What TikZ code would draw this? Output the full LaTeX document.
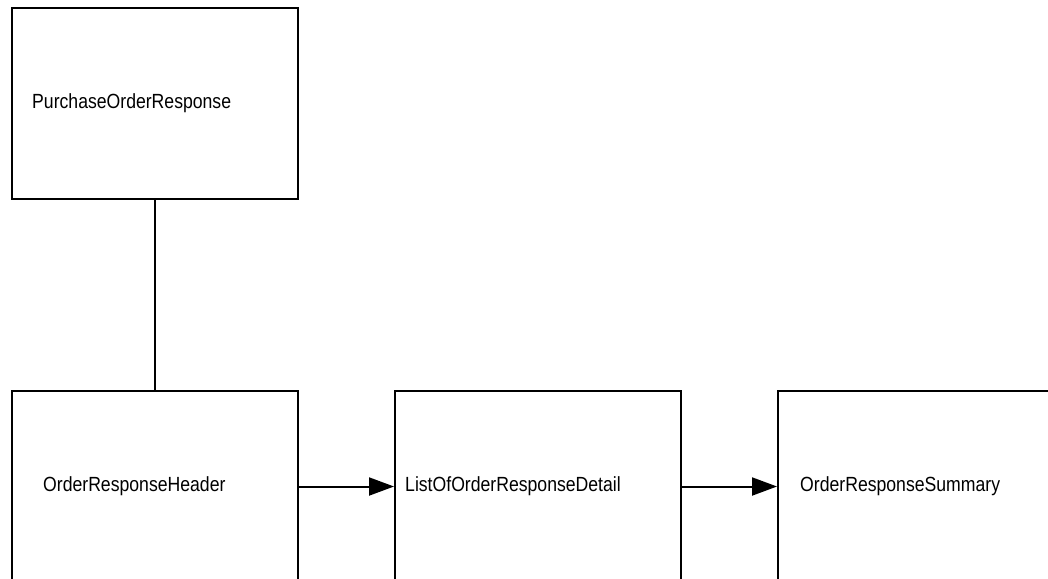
\documentclass[tikz,border=0pt]{standalone}
\usepackage{fontspec}
\usepackage{graphicx}
\setmainfont{Liberation Sans}
\usetikzlibrary{arrows.meta}
\tikzset{
  blk/.style={draw=black, line width=2pt, minimum width=286pt, minimum height=191pt, inner sep=0pt},
  lbl/.style={anchor=west, inner sep=0pt, font=\fontsize{20.5}{24}\selectfont},
  conn/.style={line width=2pt},
  arr/.style={line width=2pt, -{Triangle[length=25pt,width=18pt]}}
}
\newcommand{\cond}[1]{\scalebox{0.86}[1]{#1}}
\begin{document}
\begin{tikzpicture}[x=1pt,y=-1pt]
\useasboundingbox (0,0) rectangle (1048,578);
\clip (0,0) rectangle (1048,578);
\fill[white] (0,0) rectangle (1048,578);
\node[blk] (por) at (155,103.5) {};
\node[blk] (hdr) at (155,486.5) {};
\node[blk] (lst) at (538,486.5) {};
\node[blk] (sum) at (921,486.5) {};
\node[lbl] (porL) at (32,103) {\cond{PurchaseOrderResponse}};
\node[lbl] (hdrL) at (43,486) {\cond{OrderResponseHeader}};
\node[lbl] (lstL) at (405,486) {\cond{ListOfOrderResponseDetail}};
\node[lbl] (sumL) at (800,486) {\cond{OrderResponseSummary}};
\draw[conn] (por.south) -- (hdr.north);
\draw[arr] (hdr.east) -- (lst.west);
\draw[arr] (lst.east) -- (sum.west);
\end{tikzpicture}
\end{document}
